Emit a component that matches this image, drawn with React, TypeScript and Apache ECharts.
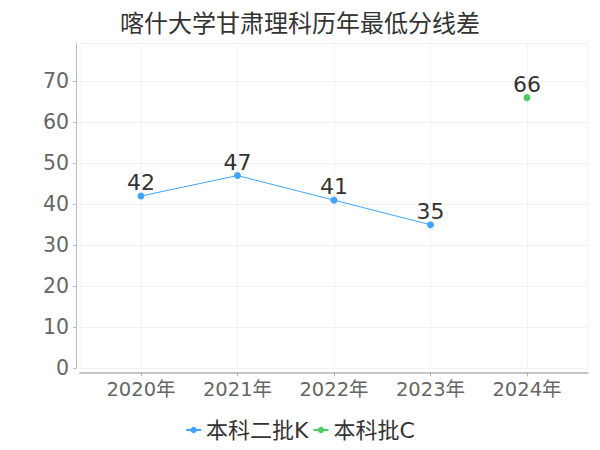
import React, { useEffect, useRef } from "react";
import * as echarts from "echarts";

const titleText = "喀什大学甘肃理科历年最低分线差";
const years = ["2020年", "2021年", "2022年", "2023年", "2024年"];
const seriesAName = "本科二批K";
const seriesAValues: (number | null)[] = [42, 47, 41, 35, null];
const seriesBName = "本科批C";
const seriesBValues: (number | null)[] = [null, null, null, null, 66];
const yTicks = [0, 10, 20, 30, 40, 50, 60, 70];
const xTicks = [0, 1, 2, 3, 4];

const FONT = "'DejaVu Sans', 'Noto Sans CJK SC', sans-serif";

function toPairs(vals: (number | null)[]) {
  const out: [number, number][] = [];
  vals.forEach((v, i) => {
    if (v !== null) out.push([i, v]);
  });
  return out;
}

export default function App() {
  const ref = useRef<HTMLDivElement>(null);
  useEffect(() => {
    if (!ref.current) return;
    const chart = echarts.init(ref.current, undefined, { renderer: "svg" });
    chart.setOption({
      animation: false,
      backgroundColor: "#ffffff",
      title: {
        text: titleText,
        left: "center",
        top: 4,
        textStyle: {
          fontSize: 24,
          fontWeight: "normal",
          color: "#333333",
          fontFamily: "'Noto Sans CJK SC', sans-serif",
        },
      },
      legend: {
        bottom: 4,
        left: "center",
        itemWidth: 15,
        itemHeight: 8,
        itemGap: 4,
        textStyle: { fontSize: 22, color: "#333333", fontFamily: FONT },
        data: [seriesAName, seriesBName],
      },
      grid: {
        left: 80,
        right: 12,
        top: 43.5,
        bottom: 81.7,
        show: true,
        borderColor: "#f2f2f2",
        borderWidth: 1,
      },
      xAxis: {
        type: "value",
        min: -0.632,
        max: 4.632,
        offset: 4,
        axisLine: { show: true, onZero: false, lineStyle: { color: "#b4b4b4", width: 1.5 } },
        axisTick: {
          show: true,
          length: 4,
          customValues: xTicks,
          lineStyle: { color: "#b4b4b4" },
        },
        axisLabel: {
          customValues: xTicks,
          formatter: (v: number) => years[Math.round(v)] ?? "",
          fontSize: 19.5,
          color: "#666666",
          margin: 7,
          fontFamily: FONT,
        },
        splitLine: { show: true, lineStyle: { color: "#f2f2f2" } },
      },
      yAxis: {
        type: "value",
        min: 0,
        max: 79.2,
        offset: 4,
        axisLine: { show: true, onZero: false, lineStyle: { color: "#bbbbbb" } },
        axisTick: {
          show: true,
          length: 3,
          customValues: yTicks,
          lineStyle: { color: "#bbbbbb" },
        },
        axisLabel: {
          customValues: yTicks,
          fontSize: 20.5,
          color: "#666666",
          margin: 7,
          fontFamily: FONT,
        },
        splitLine: { show: true, lineStyle: { color: "#f2f2f2" } },
      },
      series: [
        {
          name: seriesAName,
          type: "line",
          data: toPairs(seriesAValues),
          symbol: "circle",
          symbolSize: 7,
          itemStyle: { color: "#40a4ff" },
          lineStyle: { width: 1, color: "#40a4ff" },
          label: {
            show: true,
            position: "top",
            distance: -1,
            fontSize: 22,
            color: "#333333",
            fontFamily: FONT,
          },
        },
        {
          name: seriesBName,
          type: "line",
          data: toPairs(seriesBValues),
          symbol: "circle",
          symbolSize: 7,
          itemStyle: { color: "#4ccb5e" },
          lineStyle: { width: 1, color: "#4ccb5e" },
          label: {
            show: true,
            position: "top",
            distance: -1,
            fontSize: 22,
            color: "#333333",
            fontFamily: FONT,
          },
        },
      ],
    });
    return () => chart.dispose();
  }, []);
  return <div ref={ref} style={{ width: 600, height: 450, margin: -8 }} />;
}
